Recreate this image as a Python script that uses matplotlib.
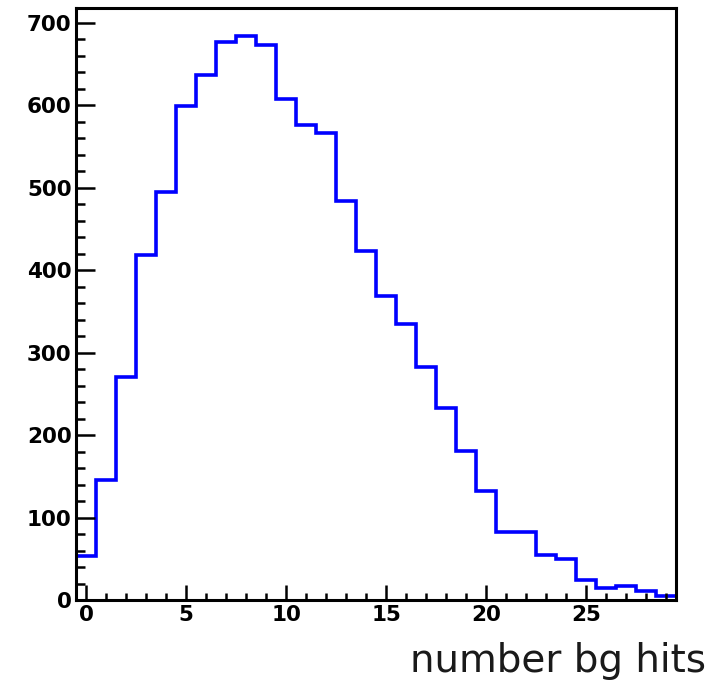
import matplotlib
matplotlib.use("Agg")
import matplotlib.pyplot as plt
from matplotlib.ticker import MultipleLocator
import numpy as np

# Histogram data: bins centred on integers 0..29
bin_edges = np.arange(-0.5, 30.0, 1.0)
counts = [53, 146, 270, 419, 495, 599, 637, 677, 684, 673,
          608, 576, 567, 484, 423, 369, 335, 282, 233, 181,
          132, 82, 82, 55, 50, 24, 15, 17, 11, 5]
x_label = "number bg hits"

W, H = 715, 685
fig = plt.figure(figsize=(W / 100, H / 100), dpi=100)
ax = fig.add_axes([76 / W, 1 - 600 / H, (676 - 76) / W, (600 - 8) / H])

ax.stairs(counts, bin_edges, color=(0, 0, 1), linewidth=2.6, baseline=None)

ax.set_xlim(-0.5, 29.5)
ax.set_ylim(0, 718)

ax.xaxis.set_major_locator(MultipleLocator(5))
ax.xaxis.set_minor_locator(MultipleLocator(1))
ax.yaxis.set_major_locator(MultipleLocator(100))
ax.yaxis.set_minor_locator(MultipleLocator(20))

for s in ax.spines.values():
    s.set_linewidth(2.2)
    s.set_color("black")

ax.tick_params(axis="both", which="both", direction="in", top=False, right=False,
               width=1.8, color="black")
ax.tick_params(axis="y", which="major", length=13.5, pad=3.2)
ax.tick_params(axis="y", which="minor", length=6.5)
ax.tick_params(axis="x", which="major", length=11, pad=3.5)
ax.tick_params(axis="x", which="minor", length=5)

for lab in ax.get_xticklabels() + ax.get_yticklabels():
    lab.set_fontfamily("DejaVu Sans")
    lab.set_fontweight("bold")
    lab.set_fontsize(15.5)

fig.text(706 / W, 1 - 672 / H, x_label, ha="right", va="baseline",
         fontsize=28, fontfamily="DejaVu Sans", color="#1a1a1a")

fig.savefig("out.png", dpi=100)
